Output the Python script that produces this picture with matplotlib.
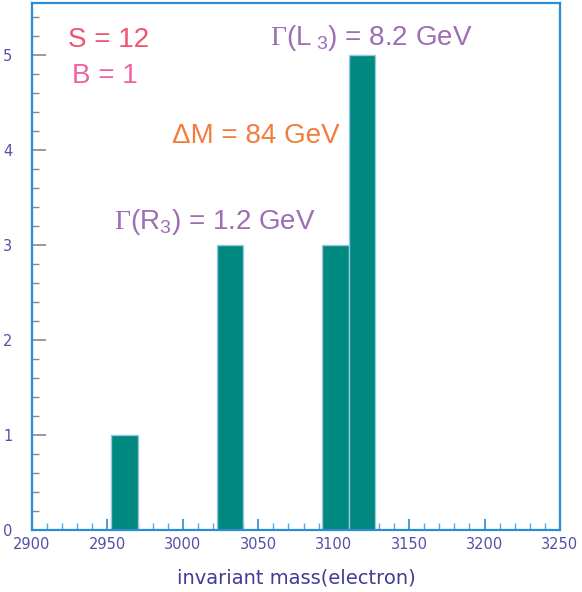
import numpy as np
import matplotlib
matplotlib.use("Agg")
import matplotlib.pyplot as plt
from matplotlib.ticker import MultipleLocator

plt.rcParams['mathtext.fontset'] = 'custom'
plt.rcParams['mathtext.rm'] = 'Liberation Sans'
plt.rcParams['mathtext.it'] = 'Liberation Sans:italic'
plt.rcParams['mathtext.cal'] = 'Liberation Serif'

# ---- data ----
x_min, x_max = 2900, 3250
n_bins = 20
bin_edges = np.linspace(x_min, x_max, n_bins + 1)
counts = [0, 0, 0, 1, 0, 0, 0, 3, 0, 0, 0, 3, 5, 0, 0, 0, 0, 0, 0, 0]
x_label = "invariant mass(electron)"
ann_S = "S = 12"
ann_B = "B = 1"
ann_gL = r"$\mathcal{\Gamma}$(L$_{\ 3}$) = 8.2 GeV"
ann_dM = "ΔM = 84 GeV"
ann_gR = r"$\mathcal{\Gamma}$(R$_{3}$) = 1.2 GeV"

W, H = 582, 592
fig = plt.figure(figsize=(W / 100, H / 100), dpi=100)
ax = fig.add_axes([32 / W, 1 - 530 / H, (560 - 32) / W, (530 - 3) / H])

teal = "#00897e"
ax.bar(bin_edges[:-1], counts, width=np.diff(bin_edges), align="edge",
       color=teal, edgecolor="#9cc6e6", linewidth=1.0, zorder=2)

ax.set_xlim(x_min, x_max)
ax.set_ylim(0, 5.547)

spine_c = "#2a8cd2"
for s in ax.spines.values():
    s.set_color(spine_c)
    s.set_linewidth(1.6)
    s.set_zorder(3)

lab_c = "#5450a6"
ax.xaxis.set_major_locator(MultipleLocator(50))
ax.xaxis.set_minor_locator(MultipleLocator(10))
ax.yaxis.set_major_locator(MultipleLocator(1))
ax.yaxis.set_minor_locator(MultipleLocator(0.2))
ax.tick_params(axis="x", which="major", direction="in", length=8, width=1.2,
               color=spine_c, labelcolor=lab_c, labelsize=10.5, pad=5,
               top=False)
ax.tick_params(axis="x", which="minor", direction="in", length=5, width=1.0,
               color="#5aa6dc", top=False)
ax.tick_params(axis="y", which="major", direction="in", length=10, width=1.2,
               color="#7a8a9a", labelcolor=lab_c, labelsize=10.5, pad=14,
               right=False)
ax.tick_params(axis="y", which="minor", direction="in", length=5, width=1.0,
               color="#7a8a9a", right=False)
for lab in ax.get_xticklabels() + ax.get_yticklabels():
    lab.set_family("DejaVu Sans")

ax.set_xlabel(x_label, fontsize=14, color="#403c98", family="DejaVu Sans",
              labelpad=12)

fs = 20
ax.text(68 / W, 1 - 40 / H, ann_S, transform=fig.transFigure, fontsize=fs,
        color="#ef5470", family="Liberation Sans", va="center", ha="left")
ax.text(72 / W, 1 - 76 / H, ann_B, transform=fig.transFigure, fontsize=fs,
        color="#f062a2", family="Liberation Sans", va="center", ha="left")
ax.text(270 / W, 1 - 38 / H, ann_gL, transform=fig.transFigure, fontsize=fs,
        color="#9d6eb4", family="Liberation Sans", va="center", ha="left")
ax.text(172 / W, 1 - 136 / H, ann_dM, transform=fig.transFigure, fontsize=fs,
        color="#f27c3e", family="Liberation Sans", va="center", ha="left")
ax.text(114 / W, 1 - 222 / H, ann_gR, transform=fig.transFigure, fontsize=fs,
        color="#9d6eb4", family="Liberation Sans", va="center", ha="left")

fig.savefig("out.png", dpi=100)
